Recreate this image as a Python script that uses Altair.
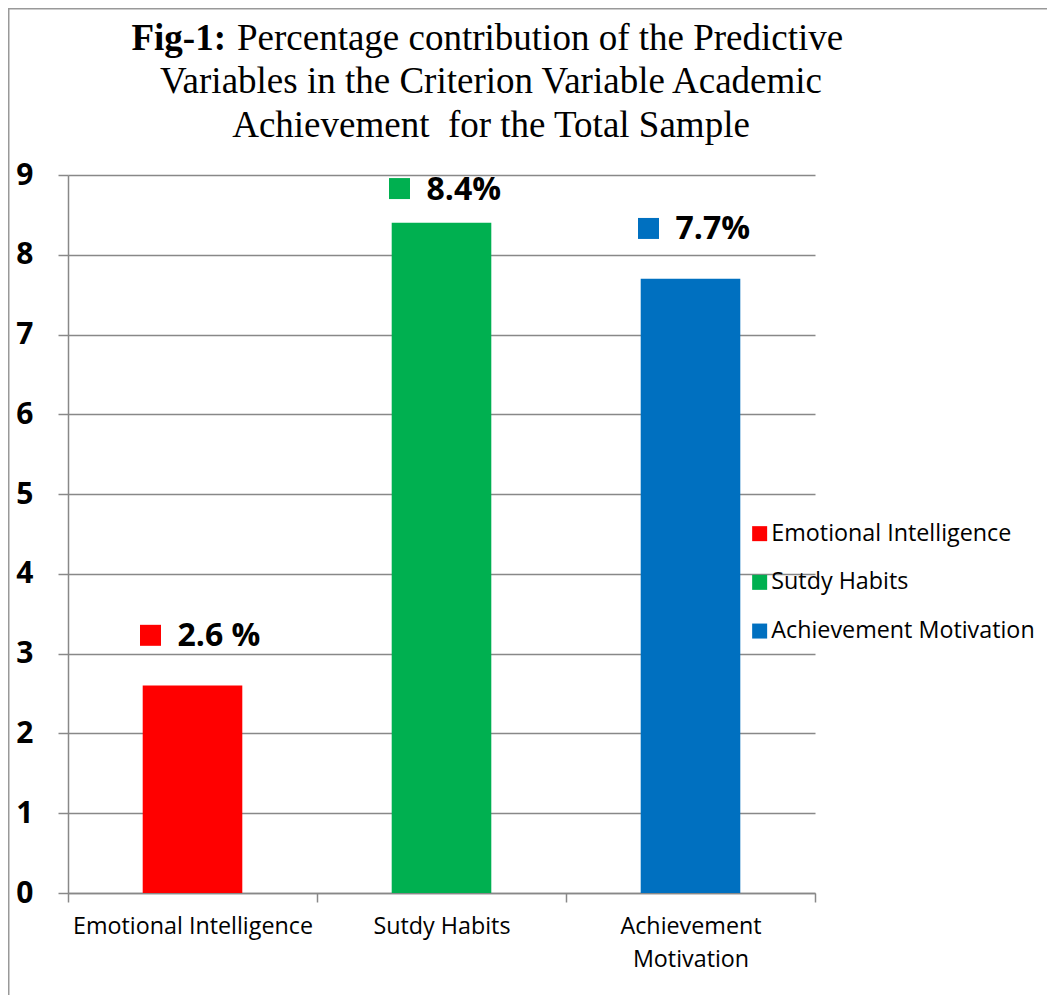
import altair as alt
import pandas as pd

categories = ["Emotional Intelligence", "Sutdy Habits", "Achievement Motivation"]
values = [2.6, 8.4, 7.7]
value_labels = ["2.6 %", "8.4%", "7.7%"]
colors = ["#FF0000", "#00B050", "#0070C0"]
y_ticks = [0, 1, 2, 3, 4, 5, 6, 7, 8, 9]
title_bold = "Fig-1:"
title_lines = [
    "Percentage contribution of the Predictive",
    "Variables in the Criterion Variable Academic",
    "Achievement \u00a0for the Total Sample",
]

df = pd.DataFrame({"category": categories, "value": values, "label": value_labels})
one = pd.DataFrame({"k": [0]})

W, H = 747, 718
GRAY = "#888888"
SANS = "Open Sans"
SERIF = "Liberation Serif"
TFS = 37
LFS = 23.3

x = alt.X(
    "category:N",
    sort=categories,
    scale=alt.Scale(paddingInner=0, paddingOuter=0),
    axis=alt.Axis(
        title=None, labelAngle=0, tickBand="extent", ticks=True, tickSize=9,
        tickColor=GRAY, tickWidth=1.5, domainColor=GRAY, domainWidth=1.5,
        labelFont=SANS, labelFontSize=LFS, labelColor="black", labelPadding=13,
        labelLineHeight=33, labelLimit=400, grid=False,
        labelExpr="datum.label == 'Achievement Motivation' ? ['Achievement', 'Motivation'] : datum.label",
    ),
)
y_axis = alt.Axis(
    title=None, values=y_ticks, grid=True, gridColor=GRAY, gridWidth=1.5,
    tickSize=10, tickColor=GRAY, tickWidth=1.5, domainColor=GRAY, domainWidth=1.5,
    labelFont=SANS, labelFontSize=30, labelFontWeight="bold", labelColor="black",
    labelPadding=25, format="d",
)
yscale = alt.Scale(domain=[0, 9], nice=False)

color = alt.Color(
    "category:N", sort=categories,
    scale=alt.Scale(domain=categories, range=colors),
    legend=alt.Legend(
        title=None, orient="none", legendX=680, legendY=347, symbolType="square",
        symbolSize=225, symbolStrokeWidth=0, labelFont=SANS, labelFontSize=LFS,
        labelColor="black", rowPadding=24.7, labelOffset=0, padding=0, labelLimit=400,
    ),
)

bars = alt.Chart(df).mark_bar(width=alt.RelativeBandSize(0.4)).encode(
    x=x, y=alt.Y("value:Q", scale=yscale, axis=y_axis), color=color
)

lab = alt.Chart(df).transform_calculate(label_y="min(datum.value + 0.63, 8.83)")
squares = lab.mark_square(size=441, xOffset=-42, opacity=1, filled=True).encode(
    x=x, y=alt.Y("label_y:Q", scale=yscale), color=color
)
texts = lab.mark_text(
    align="left", baseline="middle", dx=-15, dy=1, font=SANS, fontSize=32,
    fontWeight="bold", color="black",
).encode(x=x, y=alt.Y("label_y:Q", scale=yscale), text="label:N")

border = alt.Chart(one).mark_rect(filled=False, stroke="#999999", strokeWidth=1.5).encode(
    x=alt.value(-59.25), x2=alt.value(1300), y=alt.value(-166.25), y2=alt.value(1300)
)

t_bold = alt.Chart(one).mark_text(
    text=title_bold, font=SERIF, fontSize=TFS, fontWeight="bold", align="right",
    baseline="alphabetic", color="black",
).encode(x=alt.value(158), y=alt.value(-125))
t1 = alt.Chart(one).mark_text(
    text=title_lines[0], font=SERIF, fontSize=TFS, align="left",
    baseline="alphabetic", color="black",
).encode(x=alt.value(169), y=alt.value(-125))
t2 = alt.Chart(one).mark_text(
    text=title_lines[1], font=SERIF, fontSize=TFS, align="center",
    baseline="alphabetic", color="black",
).encode(x=alt.value(423), y=alt.value(-82))
t3 = alt.Chart(one).mark_text(
    text=title_lines[2], font=SERIF, fontSize=TFS, align="center",
    baseline="alphabetic", color="black",
).encode(x=alt.value(423), y=alt.value(-38))

chart = alt.layer(border, bars, squares, texts, t_bold, t1, t2, t3).properties(
    width=W, height=H,
    autosize=alt.AutoSizeParams(type="none"),
    padding={"left": 60, "top": 167, "right": 232, "bottom": 102},
    background="white",
).configure_view(strokeWidth=0)

chart.save("out.html", embed_options={"renderer": "svg", "actions": False})
